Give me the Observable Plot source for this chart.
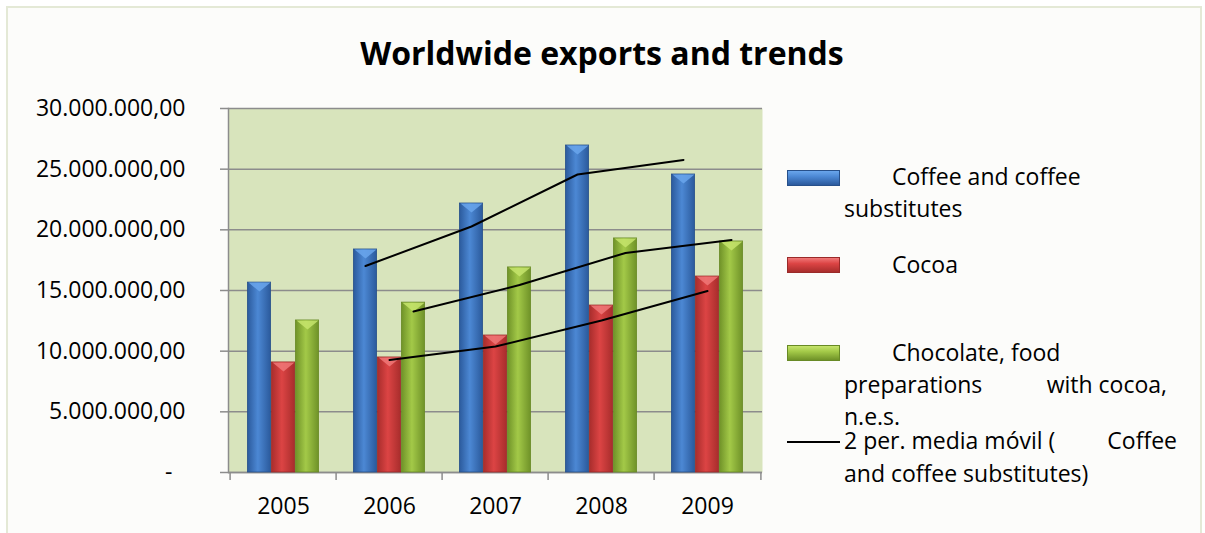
<!DOCTYPE html>
<html>
<head>
<meta charset="utf-8">
<script src="https://cdn.jsdelivr.net/npm/d3@7"></script>
<script src="https://cdn.jsdelivr.net/npm/@observablehq/plot@0.6"></script>
<style>
  html, body { margin: 0; padding: 0; background: #ffffff; }
  #wrap { position: relative; width: 1205px; height: 533px; overflow: hidden; font-family: "Open Sans", sans-serif; color: #000; }
  #border { position: absolute; left: 6px; top: 6px; width: 1192px; height: 540px; border: 2px solid #e4e9d6; background: #fcfcfa; }
  #title { position: absolute; left: 0; width: 1204px; top: 37px; text-align: center; font-weight: bold; font-size: 32px; line-height: 32px; white-space: nowrap; }
  #chart { position: absolute; left: 0; top: 90px; }
  .sw { position: absolute; left: 787px; width: 53px; height: 16px; box-sizing: border-box; }
  .ln { position: absolute; left: 844px; font-size: 23px; line-height: 24px; height: 24px; white-space: nowrap; }
  .first { left: 892px; }
  .just { display: flex; justify-content: space-between; }
</style>
</head>
<body>
<div id="wrap">
  <div id="border"></div>
  <div id="title">Worldwide exports and trends</div>
  <div id="chart"></div>
  <div id="legend"></div>
</div>
<script>
// ---- data ----
const years = ["2005", "2006", "2007", "2008", "2009"];
const coffee = [15650000, 18380000, 22170000, 26950000, 24560000];
const cocoa = [9070000, 9480000, 11290000, 13760000, 16150000];
const chocolate = [12530000, 14000000, 16900000, 19290000, 19040000];
const seriesNames = [
  "Coffee and coffee substitutes",
  "Cocoa",
  "Chocolate, food preparations with cocoa, n.e.s."
];
const yTicks = [0, 5000000, 10000000, 15000000, 20000000, 25000000, 30000000];

// ---- styling ----
const colors = [
  {id: "gBlue", dark: "#2b5a9c", light: "#4c88d4", stroke: "#27508a", bevel: "#6aa6ec"},
  {id: "gRed", dark: "#a82d2c", light: "#dc4444", stroke: "#9a2a29", bevel: "#f07878"},
  {id: "gGreen", dark: "#6f9228", light: "#a3c948", stroke: "#688a25", bevel: "#c6e46c"}
];
const width = 770, height = 440;
const mL = 228, mR = 8, mT = 18, mB = 58;
const bw = (width - mL - mR) / years.length;
const barW = 24;
const offsets = [-24, 0, 24];

const allSeries = [coffee, cocoa, chocolate];
const tables = allSeries.map((vals, s) => years.map((y, i) => ({year: y, value: vals[i], series: seriesNames[s]})));

const loc = d3.formatLocale({decimal: ",", thousands: ".", grouping: [3], currency: ["", ""]});
const fmt = loc.format(",.2f");

const bevel = {
  draw(ctx) {
    ctx.moveTo(-barW / 2 + 1, 0);
    ctx.lineTo(barW / 2 - 1, 0);
    ctx.lineTo(0, 9);
    ctx.closePath();
  }
};

const marks = [
  Plot.frame({fill: "#d8e4bc", stroke: "none"}),
  Plot.gridY({ticks: yTicks, stroke: "#8c8c8c", strokeOpacity: 1, strokeWidth: 1.5}),
  Plot.axisY({ticks: yTicks, tickSize: 8, tickPadding: 35, stroke: "#8c8c8c", strokeWidth: 1.5,
    tickFormat: d => d === 0 ? "-\u2007" : fmt(d), fontSize: 23, fill: "#000"}),
  Plot.axisX({tickSize: 8, tickFormat: () => "", dx: -bw / 2, stroke: "#8c8c8c", strokeWidth: 1.5}),
  Plot.axisX({ticks: [years[years.length - 1]], tickSize: 8, tickFormat: () => "", dx: bw / 2, stroke: "#8c8c8c", strokeWidth: 1.5}),
  Plot.axisX({tickSize: 0, tickPadding: 25, fontSize: 23, fill: "#000"}),
  Plot.ruleY([0], {stroke: "#8c8c8c", strokeWidth: 1.5}),
  Plot.frame({anchor: "left", stroke: "#8c8c8c", strokeWidth: 1.5})
];
tables.forEach((t, s) => {
  marks.push(Plot.barY(t, {
    x: "year", y: "value", dx: offsets[s],
    insetLeft: bw / 2 - barW / 2, insetRight: bw / 2 - barW / 2,
    fill: `url(#${colors[s].id})`, stroke: colors[s].stroke, strokeWidth: 0.8
  }));
  marks.push(Plot.dot(t, {
    x: "year", y: "value", dx: offsets[s], symbol: bevel, r: 5,
    fill: colors[s].bevel, stroke: "none", fillOpacity: 0.85
  }));
});
tables.forEach((t, s) => {
  marks.push(Plot.line(t, Plot.windowY({k: 2, anchor: "end", reduce: "mean", strict: true},
    {x: "year", y: "value", dx: offsets[s], stroke: "#000", strokeWidth: 2})));
});

const svg = Plot.plot({
  width, height,
  marginLeft: mL, marginRight: mR, marginTop: mT, marginBottom: mB,
  style: {fontFamily: "Open Sans, sans-serif", fontSize: "23px", color: "#000", background: "transparent"},
  x: {type: "band", domain: years, padding: 0, label: null},
  y: {domain: [0, 30000000], label: null},
  marks
});
const defs = d3.select(svg).insert("defs", ":first-child");
colors.forEach(c => {
  const g = defs.append("linearGradient").attr("id", c.id).attr("x1", 0).attr("x2", 1).attr("y1", 0).attr("y2", 0);
  g.append("stop").attr("offset", "0%").attr("stop-color", c.dark);
  g.append("stop").attr("offset", "45%").attr("stop-color", c.light);
  g.append("stop").attr("offset", "100%").attr("stop-color", c.dark);
});
document.getElementById("chart").appendChild(svg);

// ---- legend (HTML) ----
const legend = document.getElementById("legend");
const grad = c => `linear-gradient(to bottom, ${c.bevel}, ${c.light} 40%, ${c.dark})`;
legend.innerHTML = `
  <div class="sw" style="top:170px;background:${grad(colors[0])};border:1px solid ${colors[0].stroke}"></div>
  <div class="ln first" style="top:164px">Coffee and coffee</div>
  <div class="ln" style="top:196px">substitutes</div>
  <div class="sw" style="top:257px;background:${grad(colors[1])};border:1px solid ${colors[1].stroke}"></div>
  <div class="ln first" style="top:252px">Cocoa</div>
  <div class="sw" style="top:345px;background:${grad(colors[2])};border:1px solid ${colors[2].stroke}"></div>
  <div class="ln first" style="top:340px">Chocolate, food</div>
  <div class="ln just" style="top:372px;width:323px"><span>preparations</span><span>with cocoa,</span></div>
  <div class="ln" style="top:404px">n.e.s.</div>
  <div style="position:absolute;left:787px;top:441px;width:53px;height:2px;background:#000"></div>
  <div class="ln just" style="top:428px;width:333px"><span>2 per. media móvil (</span><span>Coffee</span></div>
  <div class="ln" style="top:461px">and coffee substitutes)</div>
`;
</script>
</body>
</html>
